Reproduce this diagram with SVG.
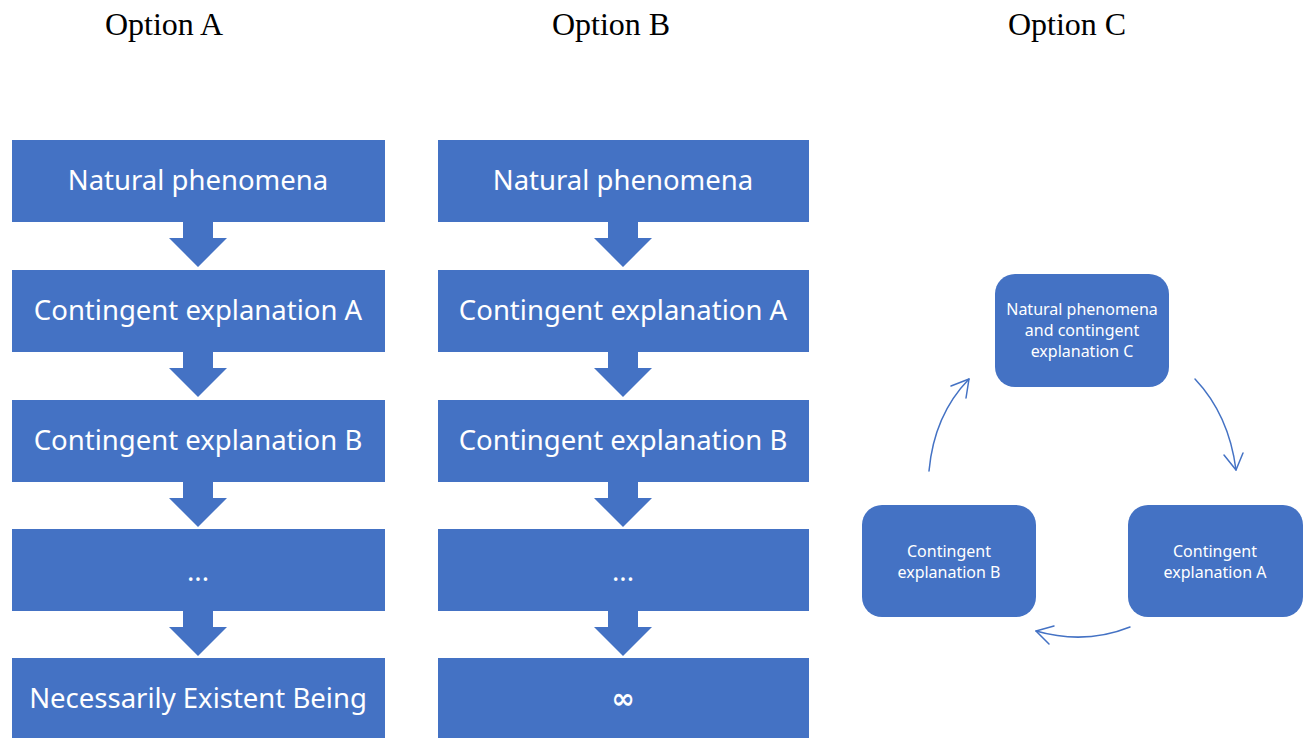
<svg xmlns="http://www.w3.org/2000/svg" width="1306" height="738" viewBox="0 0 1306 738">
<defs>
<style>
.t{font-family:"Liberation Serif",serif;font-size:32px;fill:#000;text-anchor:middle}
.b{fill:#4472c4}
.bt{font-family:"Noto Sans","Open Sans",sans-serif;font-size:27.5px;fill:#fff;text-anchor:middle}
.inf{font-family:"DejaVu Sans",sans-serif;font-size:28px;font-weight:bold;fill:#fff;text-anchor:middle}
.st{font-family:"Noto Sans","Open Sans",sans-serif;font-size:16px;fill:#fff;text-anchor:middle}
.c{fill:none;stroke:#4472c4;stroke-width:1.5;stroke-linecap:round;stroke-linejoin:round}
</style>
<path id="dn" d="M-15,0 H15 V16 H29 L0,45 L-29,16 H-15 Z"/>
</defs>
<rect width="1306" height="738" fill="#fff"/>
<text class="t" x="164" y="35">Option A</text>
<text class="t" x="611" y="35">Option B</text>
<text class="t" x="1067" y="35">Option C</text>

<g id="optA">
<g id="a1"><rect class="b" x="12" y="140" width="373" height="82"/><text class="bt" x="198" y="190">Natural phenomena</text></g>
<g id="a2"><rect class="b" x="12" y="270" width="373" height="82"/><text class="bt" x="198" y="320">Contingent explanation A</text></g>
<g id="a3"><rect class="b" x="12" y="400" width="373" height="82"/><text class="bt" x="198" y="450">Contingent explanation B</text></g>
<g id="a4"><rect class="b" x="12" y="529" width="373" height="82"/><text class="bt" x="198" y="581">...</text></g>
<g id="a5"><rect class="b" x="12" y="658" width="373" height="82"/><text class="bt" x="198" y="708">Necessarily Existent Being</text></g>
</g>
<g id="optB">
<g id="b1"><rect class="b" x="438" y="140" width="371" height="82"/><text class="bt" x="623" y="190">Natural phenomena</text></g>
<g id="b2"><rect class="b" x="438" y="270" width="371" height="82"/><text class="bt" x="623" y="320">Contingent explanation A</text></g>
<g id="b3"><rect class="b" x="438" y="400" width="371" height="82"/><text class="bt" x="623" y="450">Contingent explanation B</text></g>
<g id="b4"><rect class="b" x="438" y="529" width="371" height="82"/><text class="bt" x="623" y="581">...</text></g>
<g id="b5"><rect class="b" x="438" y="658" width="371" height="82"/><text class="inf" x="623" y="708">∞</text></g>
</g>
<g id="optC">
<g id="c1"><rect class="b" x="995" y="274" width="174" height="113" rx="20"/><text class="st" x="1082" y="315">Natural phenomena</text><text class="st" x="1082" y="336">and contingent</text><text class="st" x="1082" y="357">explanation C</text></g>
<g id="c2"><rect class="b" x="1128" y="505" width="175" height="112" rx="20"/><text class="st" x="1215" y="557">Contingent</text><text class="st" x="1215" y="578">explanation A</text></g>
<g id="c3"><rect class="b" x="862" y="505" width="174" height="112" rx="20"/><text class="st" x="949" y="557">Contingent</text><text class="st" x="949" y="578">explanation B</text></g>
</g>
<g id="connectors">
<use href="#dn" x="198" y="222" class="b"/>
<use href="#dn" x="198" y="352" class="b"/>
<use href="#dn" x="198" y="482" class="b"/>
<use href="#dn" x="198" y="611" class="b"/>
<use href="#dn" x="623" y="222" class="b"/>
<use href="#dn" x="623" y="352" class="b"/>
<use href="#dn" x="623" y="482" class="b"/>
<use href="#dn" x="623" y="611" class="b"/>
<path class="c" d="M929,471 Q934,415 969,379"/>
<path class="c" d="M951,386 L969,379 L966,398"/>
<path class="c" d="M1195,379 Q1229,415 1236,470"/>
<path class="c" d="M1224,455 L1236,470 L1243,453"/>
<path class="c" d="M1130,627 Q1085,645 1036,631"/>
<path class="c" d="M1054,626 L1036,631 L1049,644"/>
</g>
</svg>
